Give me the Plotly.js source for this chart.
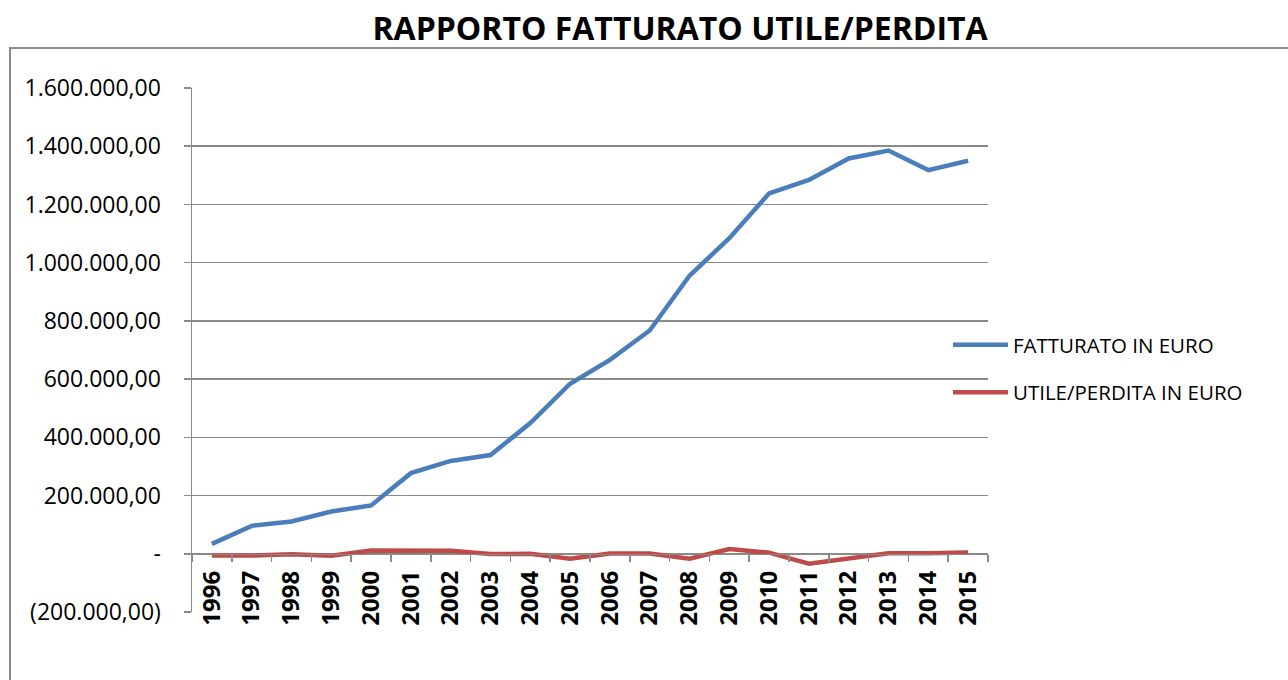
<!DOCTYPE html>
<html>
<head>
<meta charset="utf-8">
<script src="https://cdn.plot.ly/plotly-3.0.1.min.js"></script>
<style>
  html, body { margin: 0; padding: 0; width: 1288px; height: 680px; overflow: hidden; background: #fff; }
  #frame { position: absolute; left: 9px; top: 47px; width: 1400px; height: 800px; border: 2px solid #8c8c8c; box-sizing: border-box; }
  #chart { position: absolute; left: 0; top: 0; width: 1288px; height: 680px; }
</style>
</head>
<body>
<div id="frame"></div>
<div id="chart"></div>
<script>
/* ===== Data ===== */
const years = ["1996","1997","1998","1999","2000","2001","2002","2003","2004","2005",
               "2006","2007","2008","2009","2010","2011","2012","2013","2014","2015"];

const fatturato = [34000, 96000, 111000, 145000, 166000, 277000, 319000, 339000, 449000, 584000,
                   666000, 767000, 955000, 1084000, 1238000, 1284000, 1358000, 1385000, 1318000, 1350000];

const utilePerdita = [-6000, -6000, -2000, -7000, 11000, 11000, 10000, -1000, 0, -17000,
                      1000, 1000, -17000, 16000, 4000, -34000, -15000, 2000, 2000, 4000];

const yTickVals = [-200000, 0, 200000, 400000, 600000, 800000, 1000000, 1200000, 1400000, 1600000];
const yTickText = ["(200.000,00)", "-", "200.000,00", "400.000,00", "600.000,00", "800.000,00",
                   "1.000.000,00", "1.200.000,00", "1.400.000,00", "1.600.000,00"];

/* ===== Plot ===== */
const font = "'Open Sans', Lato, sans-serif";
const gray = "#8a8a8a";
const yMin = -200000, yMax = 1600000;

const traces = [
    {
        type: "scatter", mode: "lines",
        x: years, y: fatturato,
        name: "FATTURATO IN EURO",
        legendgroup: "a",
        line: { color: "#4a7ebb", width: 4.5 }
    },
    {
        type: "scatter", mode: "lines",
        x: years, y: utilePerdita,
        name: "UTILE/PERDITA IN EURO",
        legendgroup: "b",
        line: { color: "#be4b48", width: 4.5 }
    }
];

const layout = {
    width: 1288, height: 680,
    margin: { l: 192, r: 300, t: 88, b: 68 },
    paper_bgcolor: "rgba(0,0,0,0)",
    plot_bgcolor: "rgba(0,0,0,0)",
    font: { family: font, color: "#000" },
    title: {
        text: "<b>RAPPORTO FATTURATO UTILE/PERDITA</b>",
        font: { family: font, size: 32, color: "#000" },
        xref: "container", x: 0.528, xanchor: "center",
        yref: "container", y: 0.958, yanchor: "middle"
    },
    xaxis: {
        type: "category",
        range: [-0.5, years.length - 0.5],
        anchor: "free",
        position: (0 - yMin) / (yMax - yMin),
        showline: true, linecolor: gray, linewidth: 1.5,
        ticks: "outside", tickson: "boundaries", ticklen: 7, tickcolor: gray, tickwidth: 1.5,
        showgrid: false,
        tickangle: -90,
        ticklabelstandoff: 6,
        tickfont: { family: font, size: 24, color: "#000", weight: "bold" }
    },
    yaxis: {
        range: [yMin, yMax],
        tickvals: yTickVals, ticktext: yTickText,
        showline: true, linecolor: gray, linewidth: 1.5,
        ticks: "outside", ticklen: 7, tickcolor: gray, tickwidth: 1.5,
        showgrid: true, gridcolor: gray, gridwidth: 1.5,
        zeroline: false,
        ticklabelstandoff: 18,
        tickfont: { family: font, size: 23, color: "#000" }
    },
    showlegend: true,
    legend: {
        x: 0.9497, xanchor: "left",
        y: 0.464, yanchor: "middle",
        tracegroupgap: 18,
        itemwidth: 55,
        font: { family: font, size: 20.5, color: "#000" },
        bgcolor: "rgba(0,0,0,0)"
    }
};

Plotly.newPlot("chart", traces, layout, { displayModeBar: false, staticPlot: true });
</script>
</body>
</html>
